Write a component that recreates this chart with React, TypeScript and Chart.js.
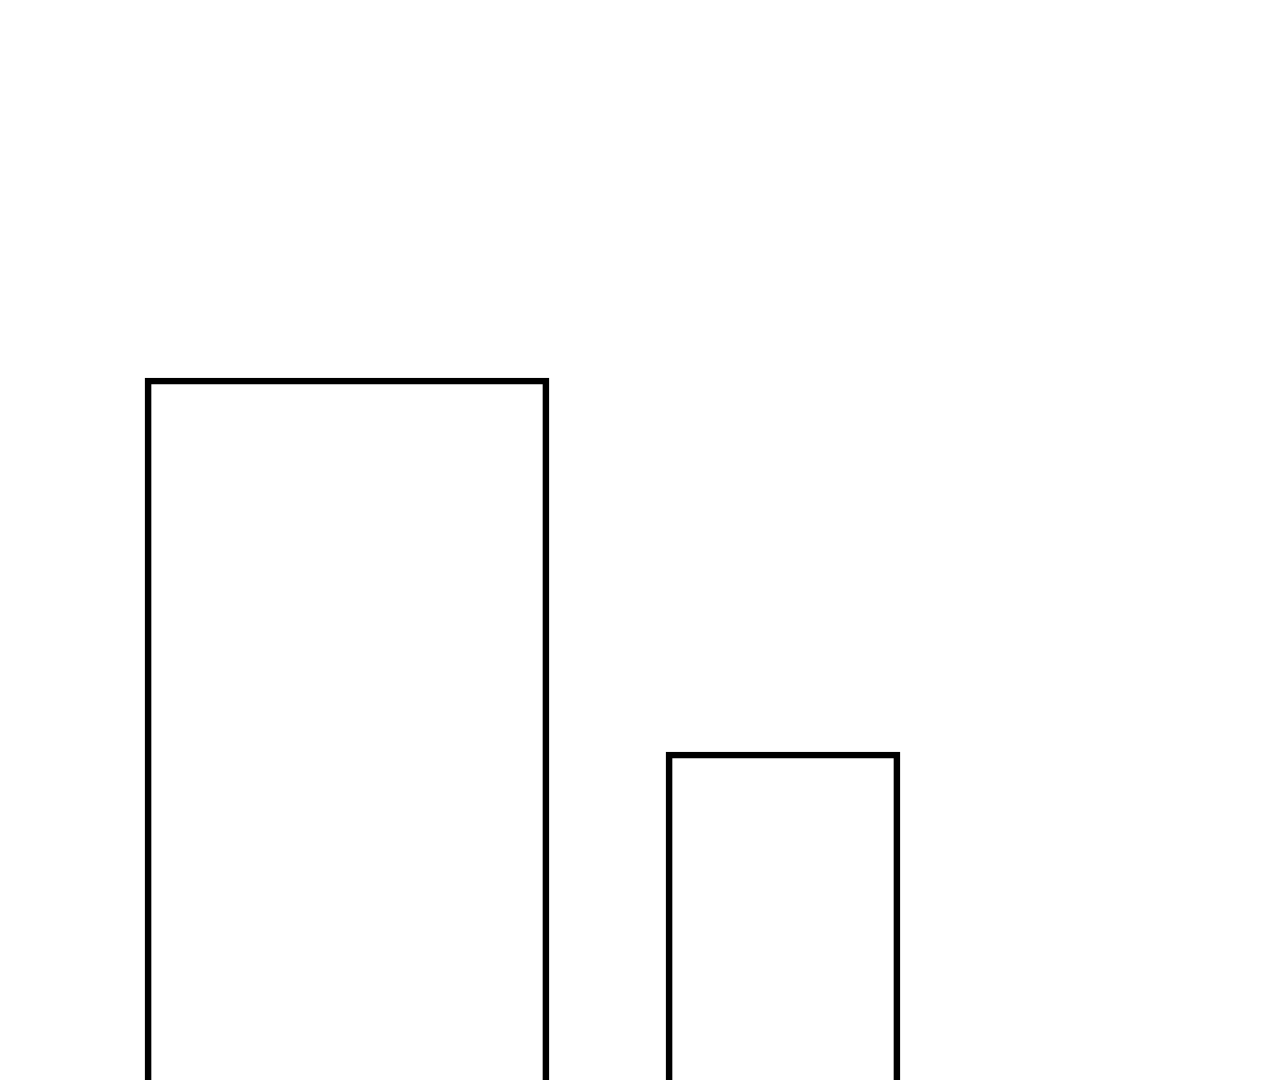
import React, { useEffect, useRef } from "react";
import { Chart, registerables } from "chart.js";

Chart.register(...registerables);

const categories = ["A", "B"];
const seriesA = [70.2, null];
const seriesB = [null, 32.8];
const yMax = 100;

export default function App() {
  const ref = useRef<HTMLCanvasElement | null>(null);

  useEffect(() => {
    if (!ref.current) return;
    const chart = new Chart(ref.current, {
      type: "bar",
      data: {
        labels: categories,
        datasets: [
          {
            data: seriesA,
            backgroundColor: "rgba(255,255,255,0)",
            borderColor: "#000000",
            borderWidth: 6,
            barThickness: 404,
            grouped: false,
          } as any,
          {
            data: seriesB,
            backgroundColor: "rgba(255,255,255,0)",
            borderColor: "#000000",
            borderWidth: 6,
            barThickness: 234,
            grouped: false,
          } as any,
        ],
      },
      options: {
        animation: false,
        responsive: true,
        maintainAspectRatio: false,
        layout: { padding: { left: 129, right: 279, top: 80, bottom: 0 } },
        plugins: { legend: { display: false }, tooltip: { enabled: false } },
        scales: {
          x: { display: false, offset: true },
          y: { display: false, min: 0, max: yMax },
        },
      },
    });
    return () => chart.destroy();
  }, []);

  return (
    <div
      style={{
        position: "fixed",
        left: 0,
        top: 0,
        width: 1280,
        height: 1080,
        background: "#ffffff",
      }}
    >
      <canvas ref={ref} />
    </div>
  );
}
